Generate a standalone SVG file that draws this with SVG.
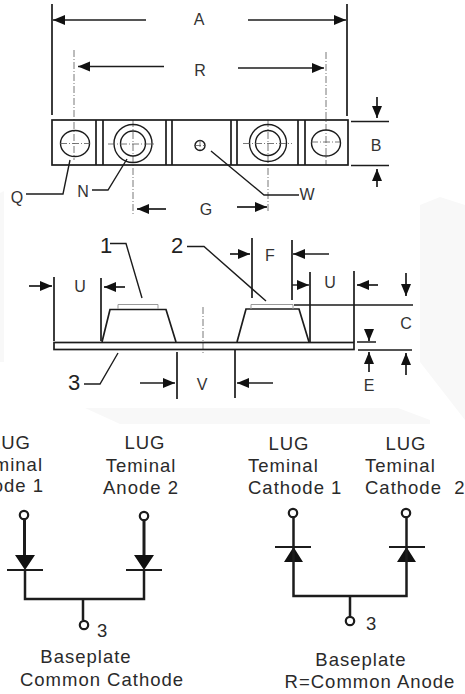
<svg xmlns="http://www.w3.org/2000/svg" width="465" height="694" viewBox="0 0 465 694">
<style>
.l{fill:none;stroke:#1c1c1c;stroke-width:1.700}
.t{fill:none;stroke:#1c1c1c;stroke-width:1.400}
.h{fill:none;stroke:#1c1c1c;stroke-width:1.700;marker-end:url(#a)}
.s{fill:none;stroke:#555;stroke-width:.8;stroke-dasharray:7 2 1 2}
.g{fill:none;stroke:#999;stroke-width:1}
.w{fill:none;stroke:#1c1c1c;stroke-width:3}
.c{fill:#fff;stroke:#1c1c1c;stroke-width:2.200}
.f{fill:#111}
.d{font-family:"Liberation Sans",Arial,sans-serif;font-size:16px;fill:#333;text-anchor:middle}
.n{font-family:"Liberation Sans",Arial,sans-serif;font-size:22px;fill:#222;text-anchor:middle}
.b{font-family:"Liberation Sans",Arial,sans-serif;font-size:18.500px;letter-spacing:1px;fill:#2a2a2a}
</style>
<defs>
<marker id="a" markerUnits="userSpaceOnUse" markerWidth="13" markerHeight="12" refX="12" refY="5" orient="auto"><path d="M0 0L12 5L0 10Z" fill="#111"/></marker>
</defs>
<rect width="465" height="694" fill="#fff"/>
<path d="M0 193L4 191V362H0ZM420 205L440 197L465 205V420L420 362ZM85 408H398L430 420V424H120Z" fill="#f8f8f8"/>
<g id="connectors">
<path class="l" d="M52 4V115M347 4V116"/>
<path class="h" d="M146 20H53"/><path class="h" d="M248 20H346"/>
<path class="s" d="M74 50V160M326 52V165M133 120V216M268 120V213"/>
<path class="h" d="M164 66.500H78"/><path class="h" d="M238 68H324"/>
<path class="l" d="M351 121.500H389M351 165.500H389"/>
<path class="h" d="M377 97V118"/><path class="h" d="M377 187V169"/>
<path class="t" d="M26 194H63L70 160"/>
<path class="t" d="M92 190H108L127 159"/>
<path class="t" d="M299 195H264L211 151"/>
<path class="h" d="M166 209H137"/><path class="h" d="M237 207H267"/>
<path class="l" d="M54 277V341M101 278V341"/>
<path class="h" d="M29 286H52"/><path class="h" d="M125 287H104"/>
<path class="s" d="M203 307V355"/>
<path class="t" d="M110 243.500H126L142 298"/>
<path class="t" d="M187 246.500H204L266 301"/>
<path class="l" d="M252 238V298M292 240V300"/>
<path class="h" d="M230 254H250"/><path class="h" d="M329 254H293"/><path class="t" d="M292 285H309" marker-end="url(#a)"/>
<path class="l" d="M310 272V342M354 271V342"/>
<path class="h" d="M378 285H357"/><path class="h" d="M406 273V296"/>
<path class="l" d="M294 305H413M357 342H376M358 350H412"/>
<path class="h" d="M369 330V341"/><path class="h" d="M369 372V352"/><path class="h" d="M406 375V353"/>
<path class="l" d="M177 352V399M235 349V398"/>
<path class="h" d="M140 383H175"/><path class="h" d="M273 383H237"/>
<path class="t" d="M84 384H100L118 353"/>
</g>
<g id="top-view">
<rect class="l" x="52" y="120" width="296" height="45"/>
<path class="l" d="M96 120V165M103 120V165M166 120V165M172 120V165M231 120V165M237 120V165M298 120V165M305 120V165"/>
<ellipse class="t" cx="75" cy="143.500" rx="14.500" ry="13"/>
<circle class="t" cx="133" cy="143.500" r="19"/><circle class="t" cx="133" cy="143.500" r="12.500"/>
<circle class="t" cx="200" cy="145.500" r="5"/>
<circle class="t" cx="268" cy="143" r="18.500"/><circle class="t" cx="268" cy="143" r="12.500"/>
<ellipse class="t" cx="326" cy="143" rx="14.500" ry="13"/>
<path class="s" d="M60 143.500H90M108 144H156M243 143.500H292M311 142H340M194 145.500H206M200 140V151"/>
</g>
<g id="side-view">
<rect class="l" x="54" y="342.500" width="300" height="7"/>
<path class="l" d="M102 342L110 309.500H166L176 342M237 342L246 309H299L309 342"/>
<path class="g" d="M118 309V304.500H158V309M251 309V304.500H293V309"/>
</g>
<g id="dims">
<text class="d" x="199" y="25">A</text>
<text class="d" x="200" y="76">R</text>
<text class="d" x="376" y="151">B</text>
<text class="d" x="17" y="203">Q</text>
<text class="d" x="83" y="197">N</text>
<text class="d" x="307" y="200">W</text>
<text class="d" x="206" y="215">G</text>
<text class="d" x="80" y="292">U</text>
<text class="d" x="270" y="261">F</text>
<text class="d" x="330" y="288">U</text>
<text class="d" x="406" y="329">C</text>
<text class="d" x="369" y="391">E</text>
<text class="d" x="202" y="390">V</text>
<text class="n" x="106" y="253">1</text>
<text class="n" x="177" y="253">2</text>
<text class="n" x="74" y="390">3</text>
</g>
<g id="common-cathode">
<circle class="c" cx="24" cy="515" r="4.200"/><circle class="c" cx="144" cy="516" r="4.200"/><circle class="c" cx="84" cy="625" r="4.200"/>
<path class="w" d="M24.500 519.500V556M144 520.500V556"/>
<path class="f" d="M15 555H35L25 570ZM134 555H154L144 570Z"/>
<path class="l" d="M7 570H43M126 570H162" style="stroke-width:2"/>
<path class="l" d="M25 570V599H144V570M83 599V620" style="stroke-width:2.500"/>
<g class="b">
<text x="31" y="449" text-anchor="end">LUG</text><text x="43" y="471" text-anchor="end">Teminal</text><text x="44" y="492" text-anchor="end">Anode 1</text>
<text x="145" y="449" text-anchor="middle">LUG</text><text x="141" y="472" text-anchor="middle">Teminal</text><text x="141" y="494" text-anchor="middle">Anode 2</text>
<text x="97" y="637">3</text>
<text x="86" y="663" text-anchor="middle">Baseplate</text><text x="102" y="686" text-anchor="middle">Common Cathode</text>
</g>
</g>
<g id="common-anode">
<circle class="c" cx="293" cy="513" r="4.200"/><circle class="c" cx="406" cy="513" r="4.200"/><circle class="c" cx="350" cy="621" r="4.200"/>
<path class="f" d="M284 562H303L293.500 547ZM397 562H416L406.500 547Z"/>
<path class="l" d="M275 547H311M389 547H425" style="stroke-width:2"/>
<path class="l" d="M293.500 517.500V596H406.500V517.500M350 596V616" style="stroke-width:2.500"/>
<g class="b">
<text x="289" y="450" text-anchor="middle">LUG</text><text x="248" y="472">Teminal</text><text x="248" y="494">Cathode 1</text>
<text x="406" y="450" text-anchor="middle">LUG</text><text x="365" y="472">Teminal</text><text x="365" y="494" xml:space="preserve">Cathode  2</text>
<text x="366" y="630">3</text>
<text x="361" y="666" text-anchor="middle">Baseplate</text><text x="370" y="688" text-anchor="middle">R=Common Anode</text>
</g>
</g>
</svg>
